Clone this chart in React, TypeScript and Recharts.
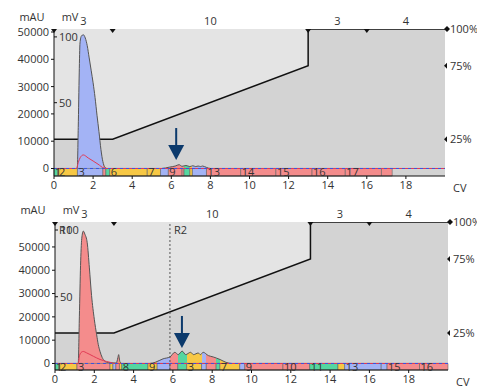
import React from 'react';
import {
  ComposedChart,
  Area,
  Line,
  XAxis,
  YAxis,
  CartesianGrid,
  ReferenceArea,
  ReferenceLine,
  ReferenceDot,
} from 'recharts';

const FONT = '"Open Sans", "Noto Sans", sans-serif';
const TXT = '#333';
const NAVY = '#0c3a6c';

// fraction tube colours
const GREEN = '#55d6a0';
const YELLOW = '#f7c845';
const BLUE = '#a3b3f5';
const RED = '#f48c8c';

const cvTicks = [0, 2, 4, 6, 8, 10, 12, 14, 16, 18];
// method blocks (CV) and their length labels on top
const blockEdges = [0, 3, 13, 16, 20];
const blockLabels = ['3', '10', '3', '4'];
// gradient %B
const gradCv = [0, 3, 13, 13, 20];
const gradPct = [25, 25, 75, 100, 100];
const gradTicks = [25, 75, 100];
const mauTicks = [0, 10000, 20000, 30000, 40000, 50000];
const mvTicks = [50, 100];

// run 1 (top)
const run1UvCv = [0, 1.19, 1.24, 1.29, 1.33, 1.4, 1.5, 1.6, 1.7, 1.8, 1.9, 2.0, 2.1, 2.2, 2.3, 2.4, 2.5, 2.6, 2.7, 5.5, 5.9, 6.2, 6.4, 6.55, 6.75, 6.95, 7.1, 7.25, 7.37, 7.5, 7.6, 7.8, 8.0, 20];
const run1Uv = [0, 0, 15000, 35000, 46000, 48500, 49000, 47800, 45000, 40500, 36000, 31400, 26000, 19500, 13500, 7000, 2500, 500, 0, 0, 500, 900, 1400, 800, 1100, 700, 1000, 700, 900, 700, 900, 400, 0, 0];
const run1CondCv = [0, 1.15, 1.25, 1.35, 1.5, 1.75, 2.0, 2.25, 2.55, 2.65, 20];
const run1Cond = [0, 0, 5, 8.5, 10.3, 8, 5.7, 3.3, 0.3, 0, 0];
// [from, to, label, colour]
const run1Fractions: [number, number, string, string][] = [
  [0, 0.2, '1', GREEN],
  [0.2, 1.2, '2', YELLOW],
  [1.2, 2.5, '3', BLUE],
  [2.5, 2.65, '', RED],
  [2.65, 2.85, '', GREEN],
  [2.85, 4.77, '6', YELLOW],
  [4.77, 5.45, '7', YELLOW],
  [5.45, 5.85, '', BLUE],
  [5.85, 6.55, '9', RED],
  [6.55, 6.65, '', RED],
  [6.65, 6.95, '', GREEN],
  [6.95, 7.08, '', YELLOW],
  [7.08, 7.8, '', BLUE],
  [7.8, 9.55, '13', RED],
  [9.55, 11.35, '14', RED],
  [11.35, 13.2, '15', RED],
  [13.2, 14.9, '16', RED],
  [14.9, 16.75, '17', RED],
  [16.75, 17.3, '', RED],
];
const run1Arrow = { cv: 6.25, mau: 3100 };

// run 2 (bottom)
const run2UvCv = [0, 1.18, 1.24, 1.3, 1.36, 1.44, 1.52, 1.64, 1.75, 1.86, 2.0, 2.12, 2.2, 2.29, 2.4, 2.46, 2.63, 2.8, 3.0, 3.12, 3.2, 3.24, 3.3, 3.4, 4.8, 5.1, 5.5, 5.85, 6.1, 6.27, 6.47, 6.65, 6.9, 7.05, 7.29, 7.4, 7.54, 7.8, 8.05, 8.4, 8.7, 9.0, 20];
const run2Uv = [0, 0, 20000, 42000, 53500, 56800, 55500, 51800, 41000, 29200, 19000, 12300, 8200, 5200, 2600, 1700, 550, 350, 250, 200, 2500, 3800, 800, 0, 0, 500, 2000, 2800, 4800, 3800, 5300, 3800, 4800, 3800, 4500, 3800, 4800, 3400, 2800, 1700, 500, 0, 0];
const run2CondCv = [0, 1.18, 1.25, 1.35, 1.44, 1.6, 1.95, 2.29, 2.63, 2.9, 3.0, 20];
const run2Cond = [0, 0, 6, 8.5, 9, 8, 5.4, 3, 1.5, 0.5, 0, 0];
const run2Fractions: [number, number, string, string][] = [
  [0, 0.2, '1', GREEN],
  [0.2, 1.12, '2', YELLOW],
  [1.12, 2.8, '3', RED],
  [2.8, 2.95, '', YELLOW],
  [2.95, 3.1, '', BLUE],
  [3.1, 3.28, '', RED],
  [3.28, 3.4, '', YELLOW],
  [3.4, 4.73, '8', GREEN],
  [4.73, 5.2, '9', YELLOW],
  [5.2, 5.85, '', BLUE],
  [5.85, 6.25, '', RED],
  [6.25, 6.7, '', GREEN],
  [6.7, 7.46, '3', YELLOW],
  [7.46, 7.7, '', BLUE],
  [7.7, 8.2, '', RED],
  [8.2, 8.39, '', GREEN],
  [8.39, 9.4, '7', YELLOW],
  [9.4, 9.66, '', BLUE],
  [9.66, 11.6, '9', RED],
  [11.6, 12.96, '10', RED],
  [12.96, 14.4, '11', GREEN],
  [14.4, 14.74, '', YELLOW],
  [14.74, 16.6, '13', BLUE],
  [16.6, 16.9, '', BLUE],
  [16.9, 18.55, '15', RED],
  [18.55, 20, '16', RED],
];
const run2Racks = [0, 5.85];
const run2RackLabels = ['R1', 'R2'];
const run2Arrow = { cv: 6.46, mau: 6650 };

const gradData = gradCv.map((cv, i) => ({ cv, grad: gradPct[i] }));

const ArrowShape = (p: any) => (
  <g fill={NAVY}>
    <rect x={p.cx - 1} y={p.cy - 32} width={2} height={18} />
    <path d={`M${p.cx - 8},${p.cy - 15} L${p.cx + 8},${p.cy - 15} L${p.cx},${p.cy} Z`} />
  </g>
);

const EdgeMark = (p: any) => (
  <path d={`M${p.cx - 3},${p.cy} L${p.cx + 3},${p.cy} L${p.cx},${p.cy + 4} Z`} fill="#111" />
);

const GradTick = (p: any) => {
  const { x, y, payload } = p;
  const v = payload.value;
  return (
    <g>
      {v === 100 ? (
        <path d={`M${x - 3},${y} L${x},${y - 3} L${x + 3},${y} L${x},${y + 3} Z`} fill="#111" />
      ) : (
        <path d={`M${x - 3},${y} L${x},${y - 3} L${x},${y + 3} Z`} fill="#111" />
      )}
      <text x={x + 3} y={y} dy="0.36em" fontSize={11} fontFamily={FONT} fill={TXT}>
        {v}%
      </text>
    </g>
  );
};

interface PanelProps {
  id: string;
  top: number;
  height: number;
  marginTop: number;
  leftW: number;
  rightW: number;
  xAxisH: number;
  mauDomain: [number, number];
  mvDomain: [number, number];
  uvCv: number[];
  uv: number[];
  condCv: number[];
  cond: number[];
  fractions: [number, number, string, string][];
  arrow: { cv: number; mau: number };
  racks?: number[];
  rackLabels?: string[];
}

const Panel: React.FC<PanelProps> = (props) => {
  const uvData = props.uvCv.map((cv, i) => ({ cv, uv: props.uv[i] }));
  const condData = props.condCv.map((cv, i) => ({ cv, cond: props.cond[i] }));
  const fillId = `uvfill-${props.id}`;
  const tick = { fontSize: 11, fontFamily: FONT, fill: TXT };
  const blockMid = blockLabels.map((_, i) => (blockEdges[i] + blockEdges[i + 1]) / 2);

  return (
    <div style={{ position: 'absolute', left: 0, top: props.top }}>
      <ComposedChart
        width={477}
        height={props.height}
        margin={{ top: props.marginTop, right: 0, bottom: 0, left: 0 }}
      >
        <defs>
          <linearGradient id={fillId} x1="0" y1="0" x2="1" y2="0">
            {props.fractions.flatMap((f, i) => [
              <stop key={`a${i}`} offset={f[0] / 20} stopColor={f[3]} />,
              <stop key={`b${i}`} offset={f[1] / 20} stopColor={f[3]} />,
            ])}
          </linearGradient>
        </defs>
        <CartesianGrid yAxisId="uv" horizontal={false} vertical={false} fill="#e4e4e4" stroke="none" />
        <XAxis
          dataKey="cv"
          type="number"
          domain={[0, 20]}
          ticks={cvTicks}
          height={props.xAxisH}
          tickSize={3}
          tick={tick}
          stroke="#111"
          allowDataOverflow
          label={(lp: any) => {
            const vb = lp.viewBox;
            return (
              <text x={vb.x + vb.width + 8} y={vb.y + 12} dy="0.36em" fontSize={11} fontFamily={FONT} fill={TXT}>
                CV
              </text>
            );
          }}
        />
        <XAxis
          xAxisId="top"
          orientation="top"
          dataKey="cv"
          type="number"
          domain={[0, 20]}
          ticks={blockMid}
          tickFormatter={(v: number) => blockLabels[blockMid.indexOf(v)]}
          height={20}
          tickSize={2}
          axisLine={false}
          tickLine={false}
          tick={tick}
          allowDataOverflow
        />
        <YAxis
          yAxisId="uv"
          type="number"
          domain={props.mauDomain}
          ticks={mauTicks}
          width={props.leftW}
          tickSize={3}
          tick={tick}
          stroke="#111"
          allowDataOverflow
          label={(lp: any) => {
            const vb = lp.viewBox;
            return (
              <text x={vb.x + vb.width - 22} y={vb.y - 12} textAnchor="middle" dy="0.36em" fontSize={11} fontFamily={FONT} fill={TXT}>
                mAU
              </text>
            );
          }}
        />
        <YAxis
          yAxisId="mv"
          type="number"
          mirror
          domain={props.mvDomain}
          ticks={mvTicks}
          width={30}
          tickSize={3}
          axisLine={false}
          tick={tick}
          stroke="#111"
          allowDataOverflow
          label={(lp: any) => {
            const vb = lp.viewBox;
            return (
              <text x={vb.x + 16} y={vb.y - 12} textAnchor="middle" dy="0.36em" fontSize={11} fontFamily={FONT} fill={TXT}>
                mV
              </text>
            );
          }}
        />
        <YAxis
          yAxisId="grad"
          orientation="right"
          type="number"
          domain={[0, 100]}
          ticks={gradTicks}
          width={props.rightW}
          tickSize={0}
          axisLine={false}
          tickLine={false}
          tick={<GradTick />}
          allowDataOverflow
        />

        <Area
          data={gradData}
          yAxisId="grad"
          dataKey="grad"
          type="linear"
          fill="#d3d3d3"
          fillOpacity={1}
          stroke="#111"
          strokeWidth={1.5}
          isAnimationActive={false}
          dot={false}
          activeDot={false}
        />
        <Area
          data={uvData}
          yAxisId="uv"
          dataKey="uv"
          type="monotone"
          fill={`url(#${fillId})`}
          fillOpacity={1}
          stroke="#555"
          strokeWidth={1}
          isAnimationActive={false}
          dot={false}
          activeDot={false}
        />
        {props.fractions.map((f, i) => (
          <ReferenceArea
            key={`fr${i}`}
            yAxisId="uv"
            x1={f[0]}
            x2={f[1]}
            y1={props.mauDomain[0]}
            y2={0}
            fill={f[3]}
            fillOpacity={1}
            stroke="#666"
            strokeWidth={0.6}
            label={f[2] ? { value: f[2], position: 'insideLeft', offset: 1, fontSize: 11, fontFamily: FONT, fill: TXT } : undefined}
          />
        ))}
        <Line
          data={condData}
          yAxisId="mv"
          dataKey="cond"
          type="monotone"
          stroke="#e23a55"
          strokeWidth={1}
          dot={false}
          activeDot={false}
          isAnimationActive={false}
        />
        <ReferenceLine yAxisId="uv" y={0} stroke="#3a55e0" strokeDasharray="3 3" strokeWidth={1} />
        {(props.racks || []).map((r, i) => (
          <ReferenceLine
            key={`rk${i}`}
            yAxisId="uv"
            x={r}
            stroke={i === 0 ? 'none' : '#555'}
            strokeDasharray="2 2"
            label={{ value: props.rackLabels![i], position: 'insideTopLeft', offset: 4, fontSize: 11, fontFamily: FONT, fill: TXT }}
          />
        ))}
        {blockEdges.slice(0, -1).map((e) => (
          <ReferenceDot key={`be${e}`} yAxisId="grad" x={e} y={100} r={3} shape={EdgeMark} />
        ))}
        <ReferenceDot yAxisId="uv" x={props.arrow.cv} y={props.arrow.mau} r={3} shape={ArrowShape} />
      </ComposedChart>
    </div>
  );
};

export default function App() {
  return (
    <div style={{ position: 'absolute', left: 0, top: 0, width: 477, height: 387, background: '#fff' }}>
      <Panel
        id="r1"
        top={0}
        height={195}
        marginTop={9}
        leftW={54}
        rightW={32}
        xAxisH={19}
        mauDomain={[-2750, 51100]}
        mvDomain={[-5.7, 106]}
        uvCv={run1UvCv}
        uv={run1Uv}
        condCv={run1CondCv}
        cond={run1Cond}
        fractions={run1Fractions}
        arrow={run1Arrow}
      />
      <Panel
        id="r2"
        top={195}
        height={192}
        marginTop={7}
        leftW={55}
        rightW={29}
        xAxisH={17}
        mauDomain={[-2800, 60700]}
        mvDomain={[-4.9, 106]}
        uvCv={run2UvCv}
        uv={run2Uv}
        condCv={run2CondCv}
        cond={run2Cond}
        fractions={run2Fractions}
        arrow={run2Arrow}
        racks={run2Racks}
        rackLabels={run2RackLabels}
      />
    </div>
  );
}
